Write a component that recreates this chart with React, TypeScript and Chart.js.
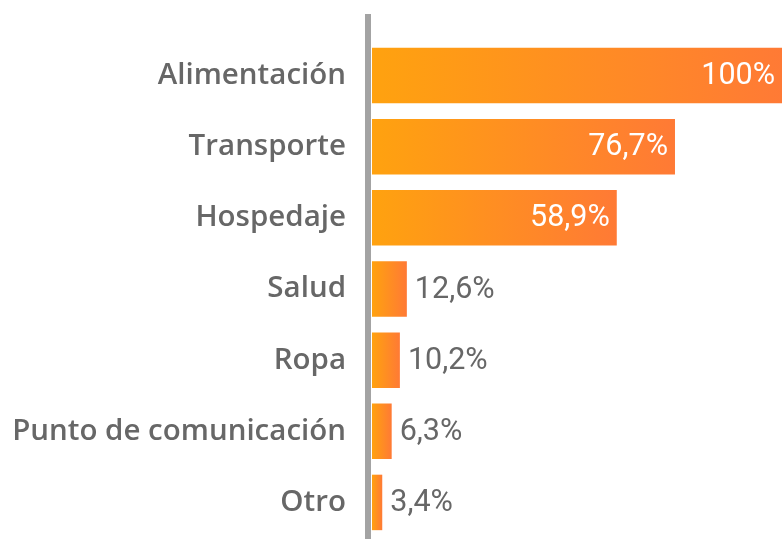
import React, { useEffect, useRef } from "react";
import { Chart, registerables } from "chart.js";

Chart.register(...registerables);

const categories = [
  "Alimentación",
  "Transporte",
  "Hospedaje",
  "Salud",
  "Ropa",
  "Punto de comunicación",
  "Otro",
];
// Bar lengths as drawn in the picture (share of the longest bar)
const barValues = [100, 73.9, 59.7, 8.5, 6.8, 4.8, 2.5];
// Value labels printed on the bars
const valueLabels = ["100%", "76,7%", "58,9%", "12,6%", "10,2%", "6,3%", "3,4%"];
const insideLabel = [true, true, true, false, false, false, false];

const axisLinePlugin = {
  id: "axisLine",
  beforeDatasetsDraw(chart: any) {
    const { ctx, chartArea } = chart;
    ctx.save();
    ctx.fillStyle = "#a3a3a3";
    ctx.fillRect(chartArea.left - 7, chartArea.top - 26, 6, chart.height - (chartArea.top - 26));
    ctx.restore();
  },
};

const valueLabelPlugin = {
  id: "valueLabels",
  afterDatasetsDraw(chart: any) {
    const { ctx } = chart;
    const meta = chart.getDatasetMeta(0);
    ctx.save();
    ctx.font = "400 30.5px Roboto, sans-serif";
    ctx.textBaseline = "middle";
    meta.data.forEach((el: any, i: number) => {
      if (insideLabel[i]) {
        ctx.fillStyle = "#ffffff";
        ctx.textAlign = "right";
        ctx.fillText(valueLabels[i], el.x - 7, el.y + 1);
      } else {
        ctx.fillStyle = "#676767";
        ctx.textAlign = "left";
        ctx.fillText(valueLabels[i], el.x + 8, el.y + 1);
      }
    });
    ctx.restore();
  },
};

export default function App() {
  const canvasRef = useRef<HTMLCanvasElement | null>(null);

  useEffect(() => {
    if (!canvasRef.current) return;
    const chart = new Chart(canvasRef.current, {
      type: "bar",
      data: {
        labels: categories,
        datasets: [
          {
            data: barValues,
            backgroundColor: (c: any) => {
              const ch = c.chart;
              if (!ch.chartArea || c.type !== "data") return "#ff9020";
              const xs = ch.scales.x;
              const x0 = xs.getPixelForValue(0);
              const x1 = xs.getPixelForValue(c.raw);
              const g = ch.ctx.createLinearGradient(x0, 0, Math.max(x1, x0 + 1), 0);
              g.addColorStop(0, "#ffa20f");
              g.addColorStop(1, "#ff7a35");
              return g;
            },
            borderWidth: 0,
            categoryPercentage: 1,
            barPercentage: 0.78,
          },
        ],
      },
      options: {
        indexAxis: "y",
        animation: false,
        responsive: true,
        maintainAspectRatio: false,
        layout: { padding: { top: 40, bottom: 1, right: 0, left: 0 } },
        plugins: {
          legend: { display: false },
          tooltip: { enabled: false },
          title: { display: false },
        },
        scales: {
          x: {
            display: false,
            min: 0,
            max: 100,
          },
          y: {
            grid: { display: false, drawTicks: false },
            border: { display: false },
            ticks: {
              padding: 26,
              color: "#676767",
              font: { family: "'Open Sans', sans-serif", size: 29.5, weight: 600 },
            },
            afterFit(scale: any) {
              scale.width = 372;
              scale.paddingTop = 0;
              scale.paddingBottom = 0;
            },
          },
        },
      },
      plugins: [axisLinePlugin, valueLabelPlugin],
    });
    return () => chart.destroy();
  }, []);

  return (
    <div style={{ position: "fixed", left: 0, top: 0, width: 782, height: 539, background: "#fff" }}>
      <canvas ref={canvasRef} />
    </div>
  );
}
